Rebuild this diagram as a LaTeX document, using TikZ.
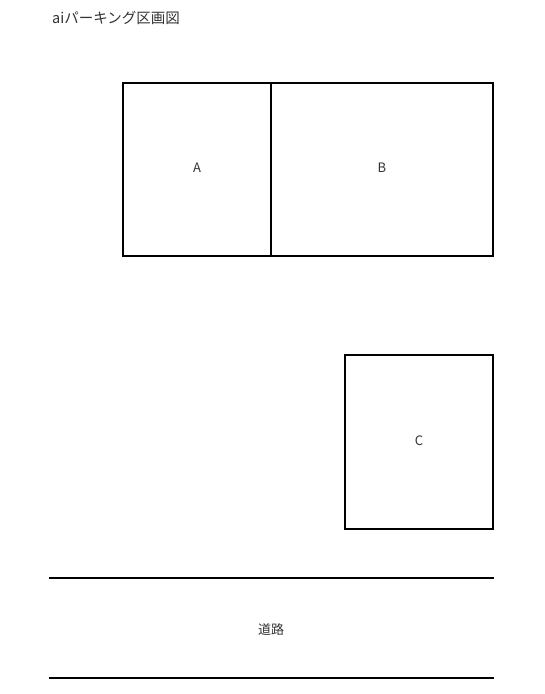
\documentclass[tikz,border=0pt]{standalone}
\usepackage{fontspec}
\setmainfont{Noto Sans CJK JP}
\begin{document}
\begin{tikzpicture}[x=1pt,y=-1pt,
  lot/.style={draw=black,line width=2pt,fill=white},
  lbl/.style={text=black!80,font=\fontsize{13}{15}\selectfont,inner sep=0pt},
  road/.style={draw=black,line width=2pt}]
\useasboundingbox[fill=white] (0,0) rectangle (545,694);
\node[lbl,anchor=west,font=\fontsize{14.5}{16}\selectfont] (title) at (52,18) {aiパーキング区画図};
\draw[lot] (123,83) rectangle (271,256);
\draw[lot] (271,83) rectangle (493,256);
\draw[lot] (345,355) rectangle (493,529);
\node[lbl] (A) at (197,168) {A};
\node[lbl] (B) at (382,168) {B};
\node[lbl] (C) at (419,441) {C};
\coordinate (r1a) at (49,578);
\coordinate (r1b) at (494,578);
\coordinate (r2a) at (49,678);
\coordinate (r2b) at (494,678);
\draw[road] (r1a) -- (r1b);
\draw[road] (r2a) -- (r2b);
\node[lbl] (road) at (271,630) {道路};
\end{tikzpicture}
\end{document}
